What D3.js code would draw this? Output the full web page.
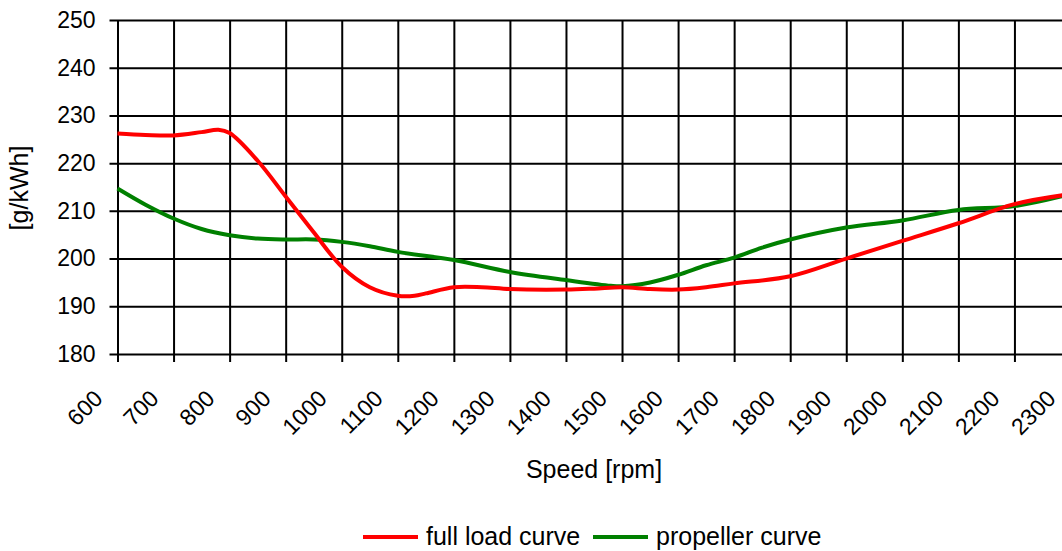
<!DOCTYPE html>
<html>
<head>
<meta charset="utf-8">
<script src="https://cdn.jsdelivr.net/npm/d3@7"></script>
<style>
  body { margin: 0; background: #fff; }
  svg { display: block; font-family: "Liberation Sans", Arial, sans-serif; }
</style>
</head>
<body>
<svg width="1062" height="551"></svg>
<script>
// speeds in rpm, consumption in g/kWh
const fullLoadSpeed = [600, 650, 700, 750, 780, 800, 850, 900, 950, 1000, 1050, 1100, 1130, 1150, 1200, 1250, 1300, 1400, 1450, 1500, 1550, 1600, 1650, 1700, 1800, 1900, 2000, 2100, 2200, 2300]
const fullLoadValue = [226.2, 225.9, 225.8, 226.5, 227.0, 226.3, 220.5, 213.0, 205.5, 198.3, 194.0, 192.2, 192.2, 192.7, 194.0, 194.0, 193.6, 193.5, 193.7, 194.0, 193.6, 193.5, 194.0, 194.8, 196.3, 200.0, 203.7, 207.4, 211.4, 213.5]

const propellerSpeed = [600, 650, 700, 750, 800, 850, 900, 950, 1000, 1050, 1100, 1200, 1300, 1400, 1480, 1500, 1550, 1600, 1650, 1700, 1750, 1800, 1900, 2000, 2100, 2200, 2300]
const propellerValue = [214.7, 211.3, 208.4, 206.2, 204.9, 204.2, 204.0, 204.0, 203.5, 202.6, 201.4, 199.7, 197.2, 195.5, 194.3, 194.2, 195.0, 196.6, 198.6, 200.2, 202.3, 204.0, 206.5, 208.0, 210.2, 211.0, 213.5]

const xTicks = d3.range(600, 2301, 100)
const yTicks = [180, 190, 200, 210, 220, 230, 240, 250]

const seriesNames = ['full load curve', 'propeller curve']
const seriesColors = ['#ff0000', '#008000']

const svg = d3.select('svg')
const margin = {top: 20, left: 117.5}
const width = 953
const height = 334
const g = svg.append('g').attr('transform', 'translate(' + margin.left + ',' + margin.top + ')')

const x = d3.scaleLinear().domain([600, 2300]).range([0, width])
const y = d3.scaleLinear().domain([180, 250]).range([height, 0])

// horizontal grid + y ticks
const yAxis = g.append('g')
  .call(d3.axisLeft(y).tickValues(yTicks).tickSizeInner(-width).tickSizeOuter(0).tickPadding(22))
yAxis.select('.domain').remove()
yAxis.selectAll('line').attr('x1', -8).attr('stroke', '#000').attr('stroke-width', 2)
yAxis.selectAll('text').attr('font-size', 23).attr('fill', '#000').attr('font-family', null)

// vertical grid + x ticks
const xAxis = g.append('g')
  .attr('transform', 'translate(0,' + height + ')')
  .call(d3.axisBottom(x).tickValues(xTicks).tickSizeInner(8).tickSizeOuter(0).tickFormat(d3.format('d')))
xAxis.select('.domain').remove()
xAxis.selectAll('line').attr('y1', -height).attr('stroke', '#000').attr('stroke-width', 2)
xAxis.selectAll('text')
  .attr('font-size', 23)
  .attr('fill', '#000')
  .attr('font-family', null)
  .attr('text-anchor', 'end')
  .attr('dy', null)
  .attr('y', 0)
  .attr('transform', 'translate(-14,46) rotate(-45)')

const line = d3.line()
  .x(d => x(d[0]))
  .y(d => y(d[1]))
  .curve(d3.curveCatmullRom.alpha(0.5))

const series = [
  d3.zip(fullLoadSpeed, fullLoadValue),
  d3.zip(propellerSpeed, propellerValue)
]

// draw propeller first, full load on top
g.append('path').datum(series[1])
  .attr('fill', 'none').attr('stroke', seriesColors[1]).attr('stroke-width', 4)
  .attr('d', line)
g.append('path').datum(series[0])
  .attr('fill', 'none').attr('stroke', seriesColors[0]).attr('stroke-width', 4)
  .attr('d', line)

// axis titles
svg.append('text')
  .attr('x', margin.left + width / 2)
  .attr('y', 478)
  .attr('text-anchor', 'middle')
  .attr('font-size', 25)
  .text('Speed [rpm]')

svg.append('text')
  .attr('transform', 'translate(28,188) rotate(-90)')
  .attr('text-anchor', 'middle')
  .attr('font-size', 25)
  .text('[g/kWh]')

// legend
const legendX = [363, 593]
const legend = svg.append('g')
seriesNames.forEach((name, i) => {
  legend.append('line')
    .attr('x1', legendX[i]).attr('x2', legendX[i] + 55)
    .attr('y1', 537).attr('y2', 537)
    .attr('stroke', seriesColors[i]).attr('stroke-width', 4)
  legend.append('text')
    .attr('x', legendX[i] + 63)
    .attr('y', 545)
    .attr('font-size', 25)
    .text(name)
})
</script>
</body>
</html>
